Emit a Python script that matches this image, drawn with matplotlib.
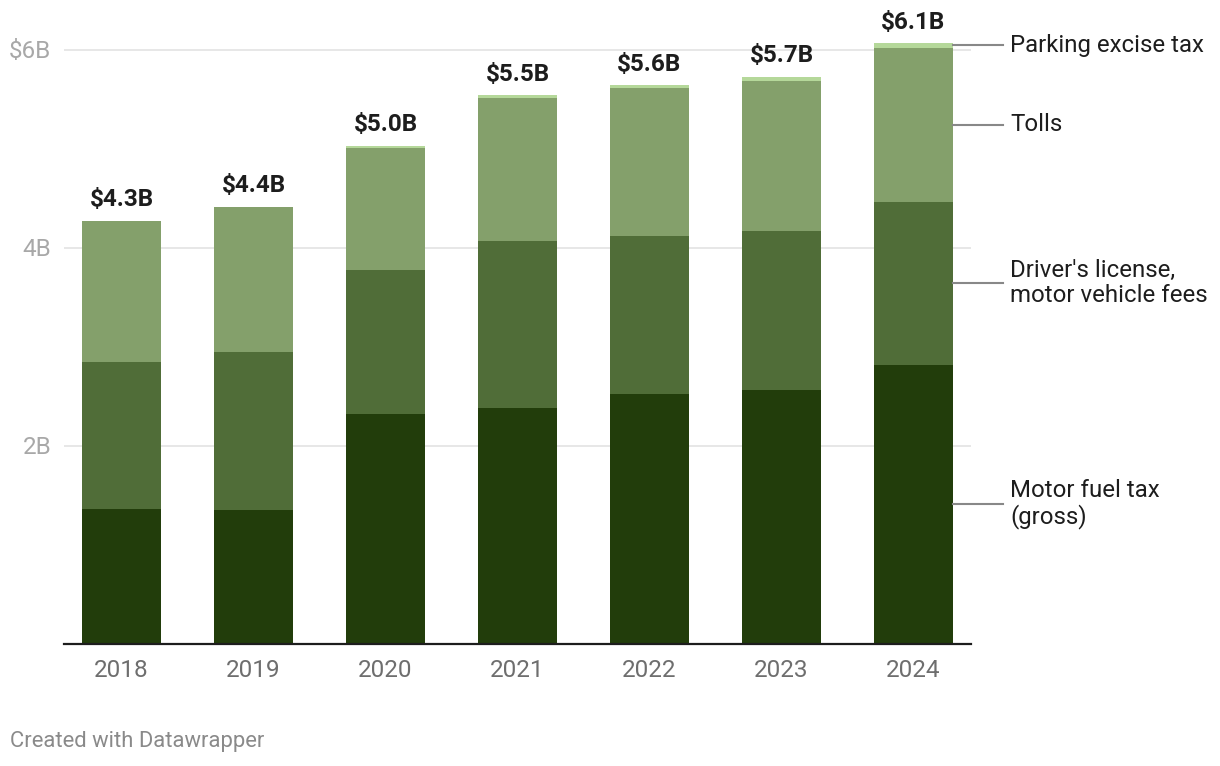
import numpy as np
from matplotlib import pyplot as plt

YEARS = ["2018", "2019", "2020", "2021", "2022", "2023", "2024"]
MOTOR_FUEL = [1.356, 1.346, 2.318, 2.378, 2.520, 2.560, 2.814]
DRIVERS_LICENSE = [1.488, 1.599, 1.457, 1.691, 1.600, 1.610, 1.650]
TOLLS = [1.426, 1.465, 1.235, 1.437, 1.487, 1.508, 1.556]
PARKING = [0.0, 0.0, 0.020, 0.030, 0.031, 0.042, 0.043]

SERIES = [
    ("Motor fuel tax\n(gross)", MOTOR_FUEL, "#223d0b"),
    ("Driver's license,\nmotor vehicle fees", DRIVERS_LICENSE, "#506d38"),
    ("Tolls", TOLLS, "#84a06b"),
    ("Parking excise tax", PARKING, "#b5d89a"),
]

FONT = ["Roboto", "DejaVu Sans"]


def run():
    plt.rcParams["font.family"] = FONT
    fig = plt.figure(figsize=(12.2, 7.66), dpi=100)
    ax = fig.add_axes([64 / 1220, (766 - 643.5) / 766, 907 / 1220, 643.5 / 766])

    x = np.arange(len(YEARS))
    width = 0.6
    bottom = np.zeros(len(YEARS))
    for name, values, color in SERIES:
        vals = np.array(values)
        ax.bar(x, vals, width, bottom=bottom, color=color, zorder=2, linewidth=0)
        # side label for the last bar
        mid = bottom[-1] + vals[-1] / 2
        x0 = x[-1] + width / 2
        ax.plot([x0, x0 + 50 / 132], [mid, mid], color="#888888", lw=1.5,
                clip_on=False, zorder=3)
        ax.text(x0 + 57 / 132, mid, name, ha="left", va="center",
                fontsize=17.3, color="#1d1d1d", linespacing=1.1)
        bottom = bottom + vals

    for xi, total in zip(x, bottom):
        ax.annotate(f"${total:.1f}B", (xi, total), xytext=(0, 7),
                    textcoords="offset points", ha="center", va="bottom",
                    fontsize=17.5, fontweight="bold", color="#1d1d1d")

    ax.set_xlim(-0.436, len(YEARS) - 1 + 0.436)
    ax.set_ylim(0, 6.5)
    ax.set_yticks([2, 4, 6])
    ax.set_yticklabels(["2B", "4B", "$6B"])
    ax.set_xticks(x)
    ax.set_xticklabels(YEARS)
    ax.grid(axis="y", color="#e3e3e3", lw=1.2, zorder=0)
    ax.tick_params(axis="y", length=0, pad=9, labelsize=17.5, labelcolor="#a8a8a8")
    ax.tick_params(axis="x", length=0, pad=11, labelsize=17.5, labelcolor="#6e6e6e")
    for side in ["top", "right", "left"]:
        ax.spines[side].set_visible(False)
    ax.spines["bottom"].set_color("#1d1d1d")
    ax.spines["bottom"].set_linewidth(1.6)
    ax.spines["bottom"].set_zorder(4)

    fig.text(10 / 1220, 1 - 742 / 766, "Created with Datawrapper", ha="left",
             va="center", fontsize=15.8, color="#8a8a8a")

    fig.savefig("out.png", dpi=100)


if __name__ == "__main__":
    run()
